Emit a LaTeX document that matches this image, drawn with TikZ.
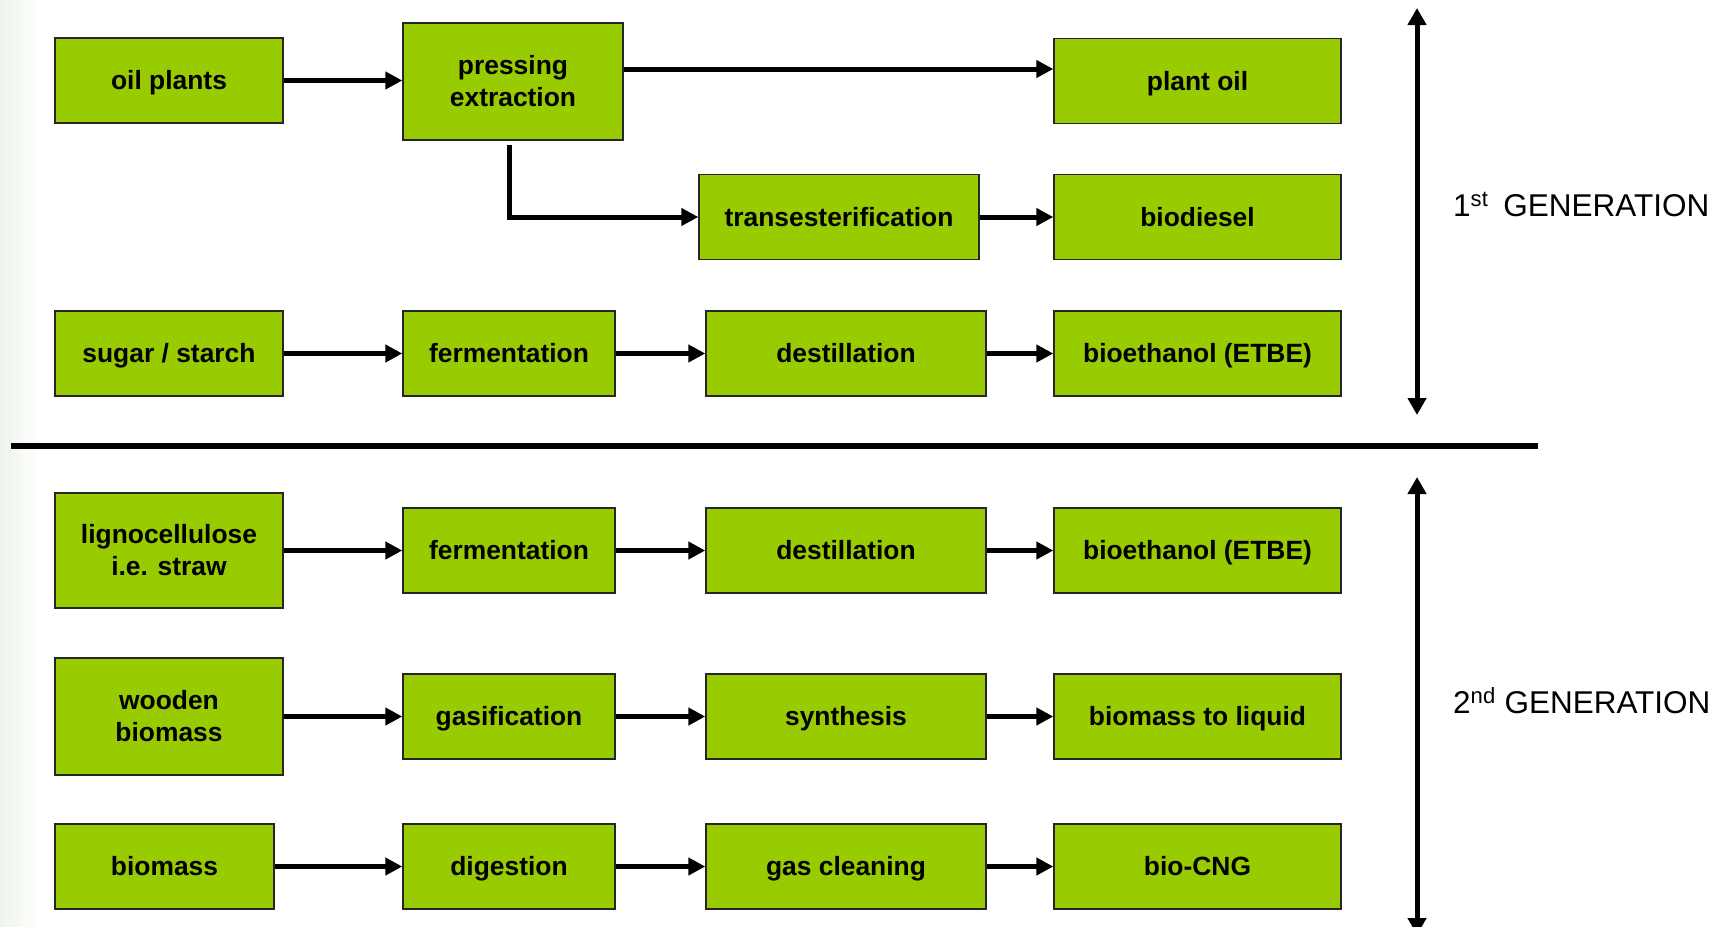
\documentclass[tikz,border=0pt]{standalone}
\usepackage{fontspec}
\setmainfont{Liberation Sans}
\usetikzlibrary{arrows.meta}
\definecolor{boxgreen}{HTML}{99CC00}
\definecolor{leftfade}{RGB}{238,244,234}
\tikzset{
  boxbase/.style={draw=black!85, line width=1.4pt, fill=boxgreen, inner sep=0pt,
    align=center, minimum height=85pt,
    font=\bfseries\fontsize{26.4}{32}\selectfont},
  box/.style={boxbase, text height=18.5pt, text depth=0pt},
  tallbox/.style={boxbase, minimum height=116pt},
  flow/.style={line width=5pt, -{Triangle[length=17pt,width=17pt]}},
  span/.style={line width=5pt,
    {Triangle[length=17pt,width=18pt]}-{Triangle[length=17pt,width=18pt]}},
  genlabel/.style={anchor=base west, inner sep=0pt,
    font=\fontsize{31.5}{36}\selectfont}
}
\begin{document}
\begin{tikzpicture}[x=1pt,y=-1pt]
\useasboundingbox (0,0) rectangle (1728,926);
\shade[left color=leftfade, right color=white] (0,0) rectangle (40,926);
% 1st generation
\node[box, minimum width=228pt] (oilpl) at (169,80.5) {oil plants};
\node[tallbox, minimum width=220pt, minimum height=117pt] (press) at (513,81.5) {pressing\\extraction};
\node[box, minimum width=287pt] (plantoil) at (1197.5,81) {plant oil};
\node[box, minimum width=280pt] (trans) at (839,217) {transesterification};
\node[box, minimum width=287pt] (diesel) at (1197.5,217) {biodiesel};
\node[box, minimum width=228pt] (sugar) at (169,353.5) {sugar / starch};
\node[box, minimum width=212pt] (ferm1) at (509,353.5) {fermentation};
\node[box, minimum width=280pt] (dest1) at (846,353.5) {destillation};
\node[box, minimum width=287pt] (ethanol1) at (1197.5,353.5) {bioethanol (ETBE)};
\draw[flow] (oilpl.east) -- (oilpl.east -| press.west);
\coordinate (pressout) at ([yshift=12.5pt]press.east);
\draw[flow] (pressout) -- (pressout -| plantoil.west);
\draw[flow] ([xshift=-4pt,yshift=-4pt]press.south) |- (trans.west);
\draw[flow] (trans) -- (diesel);
\draw[flow] (sugar) -- (ferm1);
\draw[flow] (ferm1) -- (dest1);
\draw[flow] (dest1) -- (ethanol1);
% separator
\draw[line width=5.5pt] (11,446) -- (1538,446);
% 2nd generation
\node[tallbox, minimum width=228pt, minimum height=115pt] (ligno) at (169,550.5) {lignocellulose\\i.e. straw};
\node[box, minimum width=212pt] (ferm2) at (509,550.5) {fermentation};
\node[box, minimum width=280pt] (dest2) at (846,550.5) {destillation};
\node[box, minimum width=287pt] (ethanol2) at (1197.5,550.5) {bioethanol (ETBE)};
\node[tallbox, minimum width=228pt, minimum height=117pt] (wood) at (169,716.5) {wooden\\biomass};
\node[box, minimum width=212pt] (gasif) at (509,716.5) {gasification};
\node[box, minimum width=280pt] (synth) at (846,716.5) {synthesis};
\node[box, minimum width=287pt] (btl) at (1197.5,716.5) {biomass to liquid};
\node[box, minimum width=219pt] (biomass) at (164.5,866.5) {biomass};
\node[box, minimum width=212pt] (digest) at (509,866.5) {digestion};
\node[box, minimum width=280pt] (gasclean) at (846,866.5) {gas cleaning};
\node[box, minimum width=287pt] (cng) at (1197.5,866.5) {bio-CNG};
\draw[flow] (ligno) -- (ferm2);
\draw[flow] (ferm2) -- (dest2);
\draw[flow] (dest2) -- (ethanol2);
\draw[flow] (wood) -- (gasif);
\draw[flow] (gasif) -- (synth);
\draw[flow] (synth) -- (btl);
\draw[flow] (biomass) -- (digest);
\draw[flow] (digest) -- (gasclean);
\draw[flow] (gasclean) -- (cng);
% generation spans
\coordinate (g1top) at (1417,8);
\coordinate (g1bot) at (1417,415);
\draw[span] (g1top) -- (g1bot);
\node[genlabel] (gen1) at (1453,216) {1\textsuperscript{st}\hspace{15pt}GENERATION};
\coordinate (g2top) at (1417,477);
\coordinate (g2bot) at (1417,935);
\draw[span] (g2top) -- (g2bot);
\node[genlabel] (gen2) at (1453,713) {2\textsuperscript{nd} GENERATION};
\end{tikzpicture}
\end{document}
